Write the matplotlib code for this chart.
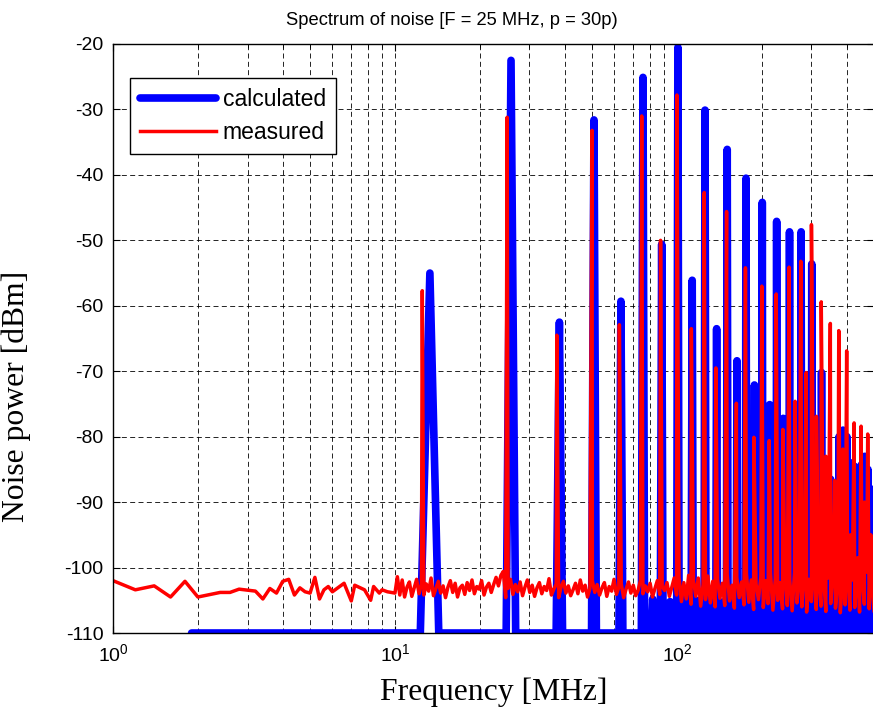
import numpy as np
import matplotlib
matplotlib.use("Agg")
from matplotlib import pyplot as plt

plt.rcParams["font.family"] = ["Liberation Sans", "DejaVu Sans"]
plt.rcParams["axes.unicode_minus"] = False

# harmonics of 12.5 MHz (F/2), levels
harm_n = np.arange(1, 40)
calc_db = [-55.0, -22.5, -62.5, -31.6, -59.3, -25.1, -50.6, -20.5, -56.1, -30.1,
           -63.5, -36.1, -68.4, -40.5, -72.1, -44.2, -75.1, -47.1, -77.2, -48.7,
           -78.5, -48.7, -81.0, -53.6, -84.0, -70.2, -88.0, -86.5, -91.0, -80.0,
           -79.0, -80.0, -84.0, -84.5, -88.0, -84.3, -83.0, -85.0, -88.0]
meas_db = [-57.7, -31.2, -64.5, -33.2, -62.9, -31.0, -50.0, -27.8, -63.5, -42.7,
           -69.5, -45.6, -74.9, -54.2, -80.1, -57.0, -80.6, -58.2, -78.9, -54.1,
           -74.6, -53.2, -70.2, -47.6, -76.9, -59.4, -83.0, -62.7, -86.7, -63.8,
           -81.9, -66.9, -95.0, -77.9, -98.5, -78.4, -90.0, -79.6, -95.0]

# calculated: small components between harmonics (from 81.25 MHz on)
half_db = [-104.8, -105.2, -104.6, -105.0, -104.4, -105.3, -104.7, -104.9, -105.1,
           -104.5, -104.8, -105.2, -104.6, -104.9, -105.0, -104.4, -104.7, -105.1,
           -104.8, -104.5, -105.0, -104.6, -104.9, -105.2, -104.7, -104.5, -104.8,
           -105.0, -104.6, -104.9, -104.7, -105.1, -104.8]

# measured noise floor below 10 MHz
low_f = [1.0, 1.2, 1.4, 1.6, 1.8, 2.0, 2.4, 2.6, 2.8, 3.2, 3.4, 3.6, 3.8, 4.0, 4.2,
         4.4, 4.6, 4.8, 5.0, 5.2, 5.4, 5.6, 5.8, 6.0, 6.6, 7.0, 7.2, 7.8, 8.2, 8.4,
         8.8, 9.0, 9.4]
low_db = [-102.0, -103.4, -102.8, -104.5, -102.1, -104.5, -103.8, -103.8, -103.3,
          -103.6, -104.8, -103.2, -103.9, -102.1, -101.8, -104.2, -103.1, -103.7,
          -103.9, -101.5, -104.8, -103.4, -102.9, -103.7, -102.4, -105.1, -102.7,
          -103.4, -105.0, -102.9, -103.9, -103.4, -103.7]

# measured noise floor 10 ... 500 MHz (log-spaced samples)
noise_db = [
    -103.9, -101.4, -104.2, -101.9, -104.5, -103.0, -102.2, -104.4, -103.1, -101.8,
    -104.0, -102.6, -104.2, -102.5, -103.6, -101.6, -104.3, -103.2, -102.1, -103.9,
    -102.8, -104.6, -103.0, -102.0, -103.8, -102.4, -104.5, -103.1, -102.7, -104.1,
    -102.3, -103.5, -101.9, -104.0, -102.9, -103.3, -102.0, -104.2, -103.0, -102.4,
    -103.8, -102.6, -101.5, -102.8, -101.2, -100.6,
    -104.6, -103.2, -101.8, -104.1, -102.6, -103.7, -102.2, -104.3, -103.0, -101.9,
    -103.8, -102.7, -104.4, -103.1, -102.3, -104.0, -102.9, -103.5, -101.7, -104.2,
    -103.3, -102.5, -104.6, -103.0, -102.1, -103.9, -102.8, -104.3, -103.4, -102.4,
    -104.0, -101.9, -103.6, -102.7, -104.5, -103.2, -102.0, -103.8, -102.6, -104.2,
    -103.1, -102.3, -104.4, -102.9, -103.6, -101.8, -104.1, -103.0, -102.5, -104.6,
    -103.3, -102.2, -103.9, -102.7, -104.3, -103.5, -101.9, -104.0, -102.8, -103.7,
    -102.4, -104.5, -103.2, -102.0, -104.1, -102.9, -103.5, -102.3, -104.4, -103.0,
    -101.6, -104.2,
    -101.5, -105.2, -102.3, -104.8, -101.2, -105.6, -102.0, -104.4, -101.6, -105.9,
    -102.6, -104.9, -101.3, -105.4, -102.1, -106.0, -101.8, -104.7, -102.4, -105.8,
    -101.0, -105.1, -102.7, -106.2, -101.5, -104.6, -102.2, -105.7, -100.9, -105.3,
    -101.9, -106.4, -102.5, -104.9, -101.4, -106.1, -102.0, -105.5, -100.8, -106.5,
    -101.7, -105.0, -102.3, -106.3, -101.2, -105.8, -101.9, -106.6, -100.7, -105.4,
    -102.1, -106.0, -101.3, -106.8, -101.8, -105.2, -100.9, -106.4, -102.2, -105.9,
    -101.1, -106.7, -101.6, -105.5, -100.6, -106.2, -102.0, -106.9, -101.4, -105.7,
    -100.8, -106.5, -101.9, -106.1, -101.0, -106.8, -101.5, -105.6, -100.7, -106.3,
    -101.8, -106.6]

# calculated curve: triangles of width +-1 MHz on a -110 dBm floor
calc_f = harm_n * 12.5 + 0.8
half_f = (6.5 + np.arange(len(half_db))) * 12.5 + 0.8
pk_f = np.concatenate([calc_f, half_f])
pk_db = np.concatenate([calc_db, half_db])
order = np.argsort(pk_f)
cx, cy = [1.9], [-110.0]
for f, v in zip(pk_f[order], pk_db[order]):
    cx += [f - 1.0, f, f + 1.0]
    cy += [-110.0, v, -110.0]
cx.append(500.0)
cy.append(-110.0)

# measured curve: noise floor plus spikes at the harmonics
noise_f = np.geomspace(10, 500, len(noise_db))
mx = np.concatenate([low_f, noise_f, harm_n * 12.5])
my = np.concatenate([low_db, noise_db, meas_db])
order = np.argsort(mx)
mx, my = mx[order], my[order]

fig = plt.figure(figsize=(8.73, 7.23), dpi=100)
ax = fig.add_axes([113 / 873, 90 / 723, 761 / 873, 589 / 723])

ax.plot(cx, cy, color=(0, 0, 1), lw=5.5, solid_joinstyle="round",
        solid_capstyle="round", label="calculated")
ax.plot(mx, my, color=(1, 0, 0), lw=2.5, solid_joinstyle="round",
        label="measured")

ax.set_xscale("log")
ax.set_xlim(1, 500)
ax.set_ylim(-110, -20)
ax.set_yticks(np.arange(-110, -19, 10))

ax.grid(True, which="both", axis="x", color="k", lw=0.6, linestyle=(0, (6, 4)))
ax.grid(True, which="major", axis="y", color="k", lw=0.6, linestyle=(0, (6, 4)))
ax.tick_params(which="both", direction="in", top=True, right=True, labelsize=14)
ax.tick_params(which="major", length=5, pad=7)
ax.tick_params(which="minor", length=3)
for s in ax.spines.values():
    s.set_linewidth(1.0)

ax.set_title("Spectrum of noise [F = 25 MHz, p = 30p)", fontsize=13.2, pad=14,
             x=0.445)
ax.set_xlabel("Frequency [MHz]", family="Liberation Serif", fontsize=22.8,
              labelpad=9)
ax.set_ylabel("Noise power [dBm]", family="Liberation Serif", fontsize=22.8,
              labelpad=10)
ax.yaxis.set_label_coords(-0.108, 0.402)

leg = ax.legend(loc="upper left", bbox_to_anchor=(0.022, 0.942), borderaxespad=0,
                fontsize=16.5, fancybox=False, edgecolor="k", framealpha=1,
                handlelength=3.3, handletextpad=0.3, labelspacing=0.42,
                borderpad=0.45)
leg.get_frame().set_linewidth(1.0)

fig.savefig("out.png", dpi=100)
